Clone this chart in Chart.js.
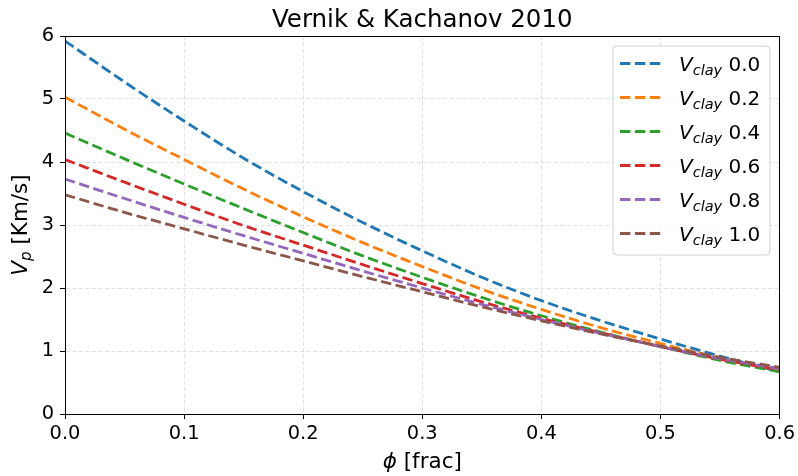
<!DOCTYPE html>
<html><head><meta charset="utf-8">
<script src="https://cdn.jsdelivr.net/npm/chart.js@4/dist/chart.umd.min.js"></script>
<style>html,body{margin:0;padding:0;background:#fff;}</style>
</head><body>
<canvas id="c" width="798" height="476"></canvas>
<script>
// ---- data ----
const titleText = 'Vernik & Kachanov 2010';
const phi = [0, 0.05, 0.1, 0.15, 0.2, 0.25, 0.3, 0.35, 0.4, 0.45, 0.5, 0.55, 0.6];
const vclayLabels = ['0.0', '0.2', '0.4', '0.6', '0.8', '1.0'];
const vpClay00 = [5.92, 5.27, 4.65, 4.06, 3.53, 3.04, 2.59, 2.17, 1.80, 1.48, 1.19, 0.92, 0.67];
const vpClay02 = [5.03, 4.52, 4.04, 3.57, 3.13, 2.72, 2.34, 1.98, 1.66, 1.37, 1.12, 0.89, 0.69];
const vpClay04 = [4.46, 4.05, 3.65, 3.26, 2.88, 2.51, 2.17, 1.85, 1.56, 1.30, 1.07, 0.85, 0.67];
const vpClay06 = [4.04, 3.68, 3.33, 2.99, 2.68, 2.37, 2.07, 1.78, 1.52, 1.29, 1.07, 0.87, 0.70];
const vpClay08 = [3.73, 3.42, 3.12, 2.83, 2.55, 2.27, 2.00, 1.74, 1.50, 1.28, 1.07, 0.88, 0.72];
const vpClay10 = [3.48, 3.20, 2.94, 2.68, 2.43, 2.18, 1.94, 1.70, 1.48, 1.27, 1.08, 0.90, 0.74];
const xTickValues = [0, 0.1, 0.2, 0.3, 0.4, 0.5, 0.6];
const yTickValues = [0, 1, 2, 3, 4, 5, 6];

const series = [vpClay00, vpClay02, vpClay04, vpClay06, vpClay08, vpClay10];
const colors = ['#1f77b4', '#ff7f0e', '#2ca02c', '#d62728', '#9467bd', '#8c564b'];
const FONT = "'DejaVu Sans', sans-serif";
const DASH = [10.4, 4.5];
const LW = 2.8;

const datasets = series.map((vals, i) => ({
  label: 'Vclay ' + vclayLabels[i],
  clayValue: vclayLabels[i],
  data: phi.map((p, j) => ({x: p, y: vals[j]})),
  borderColor: colors[i],
  backgroundColor: colors[i],
  borderWidth: LW,
  borderDash: DASH,
  pointRadius: 0,
  fill: false,
  cubicInterpolationMode: 'monotone',
  order: series.length - 1 - i
}));

function drawRich(ctx, segs, x, y, align) {
  const widths = segs.map(s => {
    ctx.font = (s.italic ? 'italic ' : '') + s.size + 'px ' + FONT;
    return ctx.measureText(s.text).width;
  });
  const total = widths.reduce((a, b) => a + b, 0);
  let cx = align === 'center' ? x - total / 2 : x;
  ctx.textAlign = 'left';
  ctx.textBaseline = 'alphabetic';
  segs.forEach((s, i) => {
    ctx.font = (s.italic ? 'italic ' : '') + s.size + 'px ' + FONT;
    ctx.fillText(s.text, cx, y + (s.dy || 0));
    cx += widths[i];
  });
}

const decor = {
  id: 'decor',
  afterDraw(chart) {
    const ctx = chart.ctx;
    const a = chart.chartArea;
    ctx.save();
    // frame
    ctx.strokeStyle = '#000';
    ctx.lineWidth = 1;
    ctx.setLineDash([]);
    ctx.strokeRect(Math.round(a.left) + 0.5, Math.round(a.top) + 0.5,
                   Math.round(a.right - a.left) - 1, Math.round(a.bottom - a.top));
    ctx.fillStyle = '#000';
    // title
    ctx.font = '24.5px ' + FONT;
    ctx.textAlign = 'center';
    ctx.textBaseline = 'alphabetic';
    ctx.fillText(titleText, (a.left + a.right) / 2, 27);
    // x axis label
    drawRich(ctx, [{text: 'ϕ', italic: true, size: 21.5}, {text: ' [frac]', size: 21.5}],
             (a.left + a.right) / 2, 468, 'center');
    // y axis label
    ctx.save();
    ctx.translate(27, (a.top + a.bottom) / 2);
    ctx.rotate(-Math.PI / 2);
    drawRich(ctx, [{text: 'V', italic: true, size: 21.5}, {text: 'p', italic: true, size: 15, dy: 4},
                   {text: ' [Km/s]', size: 21.5}], 0, 0, 'center');
    ctx.restore();
    // legend
    const bx = 613, by = 46, bw = 157, bh = 209, r = 4;
    ctx.beginPath();
    ctx.moveTo(bx + r, by);
    ctx.arcTo(bx + bw, by, bx + bw, by + bh, r);
    ctx.arcTo(bx + bw, by + bh, bx, by + bh, r);
    ctx.arcTo(bx, by + bh, bx, by, r);
    ctx.arcTo(bx, by, bx + bw, by, r);
    ctx.closePath();
    ctx.fillStyle = 'rgba(255,255,255,0.8)';
    ctx.fill();
    ctx.strokeStyle = '#d0d0d0';
    ctx.lineWidth = 1;
    ctx.stroke();
    chart.data.datasets.forEach((ds, i) => {
      const cy = 63.5 + i * 34;
      ctx.strokeStyle = ds.borderColor;
      ctx.lineWidth = LW;
      ctx.setLineDash(DASH);
      ctx.beginPath();
      ctx.moveTo(620, cy);
      ctx.lineTo(662, cy);
      ctx.stroke();
      ctx.setLineDash([]);
      ctx.fillStyle = '#000';
      drawRich(ctx, [{text: 'V', italic: true, size: 20},
                     {text: 'clay', italic: true, size: 14.5, dy: 4},
                     {text: ' ' + ds.clayValue, size: 20}], 679, cy + 7, 'left');
    });
    ctx.restore();
  }
};

const gridCommon = {
  color: '#dcdcdc',
  lineWidth: 0.9,
  drawTicks: true,
  tickLength: 5,
  tickColor: '#000',
  tickWidth: 1,
  tickBorderDash: []
};

new Chart(document.getElementById('c'), {
  type: 'line',
  data: {datasets},
  options: {
    responsive: false,
    animation: false,
    devicePixelRatio: 1,
    layout: {padding: {left: 0, right: 18, top: 36, bottom: 0}},
    plugins: {legend: {display: false}, title: {display: false}, tooltip: {enabled: false}},
    scales: {
      x: {
        type: 'linear', min: 0, max: 0.6,
        afterBuildTicks: s => { s.ticks = xTickValues.map(v => ({value: v})); },
        afterFit: s => { s.height = 62; },
        grid: gridCommon,
        border: {display: true, color: '#000', width: 1, dash: [4, 2.5]},
        ticks: {color: '#000', font: {family: FONT, size: 19.4}, padding: 3,
                maxRotation: 0, autoSkip: false, callback: v => Number(v).toFixed(1)}
      },
      y: {
        type: 'linear', min: 0, max: 6,
        afterBuildTicks: s => { s.ticks = yTickValues.map(v => ({value: v})); },
        afterFit: s => { s.width = 65; },
        grid: gridCommon,
        border: {display: true, color: '#000', width: 1, dash: [4, 2.5]},
        ticks: {color: '#000', font: {family: FONT, size: 19.4}, padding: 6,
                autoSkip: false, callback: v => String(v)}
      }
    }
  },
  plugins: [decor]
});
</script>
</body></html>
